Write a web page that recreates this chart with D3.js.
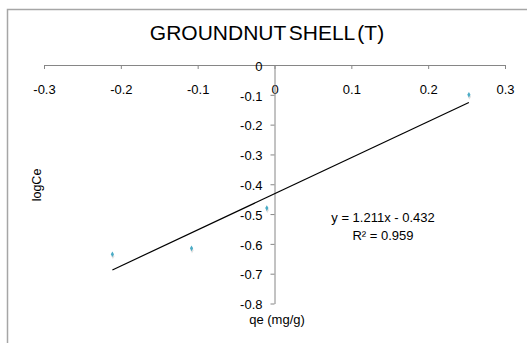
<!DOCTYPE html>
<html>
<head>
<meta charset="utf-8">
<script src="https://cdn.jsdelivr.net/npm/d3@7"></script>
<style>
  body { margin: 0; background: #fff; }
  svg text { font-family: "Liberation Sans", Arial, sans-serif; fill: #000; }
</style>
</head>
<body>
<div id="chart"></div>
<script>
// data
const qe = [-0.211, -0.108, -0.010, 0.253]
const logCe = [-0.635, -0.615, -0.480, -0.100]
const xTicks = [-0.3, -0.2, -0.1, 0, 0.1, 0.2, 0.3]
const yTicks = [0, -0.1, -0.2, -0.3, -0.4, -0.5, -0.6, -0.7, -0.8]
const slope = 1.211
const intercept = -0.432
const eqLabel = "y = 1.211x - 0.432"
const r2Label = "R² = 0.959"

const W = 527, H = 343

// plain hyphen minus, like the spreadsheet
const fmt = d => String(+d.toFixed(1))

const svg = d3.select("#chart").append("svg")
    .attr("width", W)
    .attr("height", H)

// chart border (runs off the right/bottom of the picture)
svg.append("rect")
    .attr("x", 7.5)
    .attr("y", 9.5)
    .attr("width", 540)
    .attr("height", 360)
    .attr("fill", "#fff")
    .attr("stroke", "#a6a6a6")
    .attr("stroke-width", 1.5)

const x = d3.scaleLinear().domain([-0.3, 0.3]).range([44, 505])
const y = d3.scaleLinear().domain([0, -0.8]).range([65, 303.5])

svg.append("text")
    .attr("x", 267)
    .attr("y", 40)
    .attr("text-anchor", "middle")
    .style("font-size", "21px")
    .style("word-spacing", "-3px")
    .text("GROUNDNUT SHELL (T)")

// x axis crosses at y = 0
const gx = svg.append("g")
    .attr("transform", `translate(0,${y(0)})`)
    .call(d3.axisBottom(x).tickValues(xTicks).tickSize(4).tickSizeOuter(0)
        .tickPadding(16).tickFormat(fmt))

// y axis crosses at x = 0
const gy = svg.append("g")
    .attr("transform", `translate(${x(0)},0)`)
    .call(d3.axisLeft(y).tickValues(yTicks).tickSize(4).tickSizeOuter(0)
        .tickPadding(8).tickFormat(fmt))

for (const g of [gx, gy]) {
    g.select(".domain").attr("stroke", "#868686")
    g.selectAll(".tick line").attr("stroke", "#868686")
    g.selectAll(".tick text")
        .style("font-size", "13px")
        .style("font-family", "'Liberation Sans', Arial, sans-serif")
        .attr("fill", "#000")
}
gy.selectAll(".tick text").attr("dy", "0.4em")

// axis titles
svg.append("text")
    .attr("transform", "translate(41,185) rotate(-90)")
    .attr("text-anchor", "middle")
    .style("font-size", "12.5px")
    .text("logCe")

svg.append("text")
    .attr("x", 277)
    .attr("y", 324)
    .attr("text-anchor", "middle")
    .style("font-size", "13px")
    .text("qe (mg/g)")

// trend line over the data range
const [x0, x1] = d3.extent(qe)
svg.append("line")
    .attr("x1", x(x0))
    .attr("y1", y(slope * x0 + intercept))
    .attr("x2", x(x1))
    .attr("y2", y(slope * x1 + intercept))
    .attr("stroke", "#000")
    .attr("stroke-width", 1.2)

// markers with soft shadow
const pts = qe.map((v, i) => ({ x: v, y: logCe[i] }))
const diamond = d3.symbol().type(d3.symbolDiamond).size(9)

svg.append("g").selectAll("path")
    .data(pts)
    .join("path")
    .attr("d", diamond)
    .attr("transform", d => `translate(${x(d.x) + 0.5},${y(d.y) + 2})`)
    .attr("fill", "#d0d0d0")
    .attr("opacity", 0.7)

svg.append("g").selectAll("path")
    .data(pts)
    .join("path")
    .attr("d", diamond)
    .attr("transform", d => `translate(${x(d.x)},${y(d.y)})`)
    .attr("fill", "#4bacc6")

// regression label
svg.append("text")
    .attr("x", 383)
    .attr("y", 222)
    .attr("text-anchor", "middle")
    .style("font-size", "13px")
    .text(eqLabel)

svg.append("text")
    .attr("x", 383)
    .attr("y", 240)
    .attr("text-anchor", "middle")
    .style("font-size", "13px")
    .text(r2Label)
</script>
</body>
</html>
